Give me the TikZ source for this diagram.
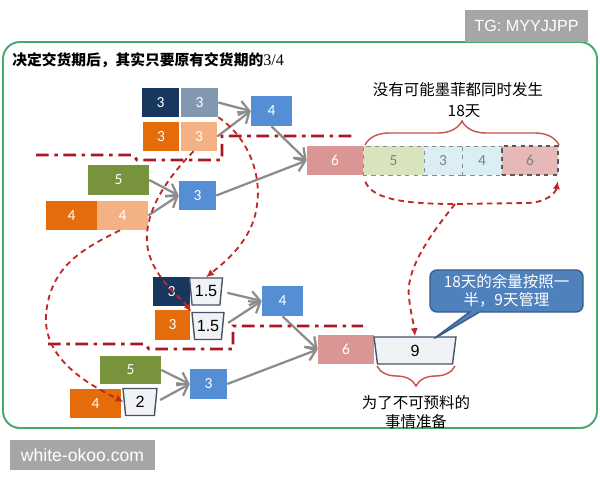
\documentclass[tikz,border=0pt]{standalone}
\usepackage{fontspec}
\setmainfont{Carlito}
\newfontfamily\cjk{Noto Sans CJK SC}
\newfontfamily\arial{Liberation Sans}
\newfontfamily\tms{Liberation Serif}
\usetikzlibrary{arrows.meta,shapes.geometric,shapes.callouts,decorations.pathreplacing}
\definecolor{navy}{RGB}{23,55,94}
\definecolor{slate}{RGB}{132,151,176}
\definecolor{orng}{RGB}{228,108,10}
\definecolor{lorng}{RGB}{244,177,131}
\definecolor{blu}{RGB}{85,142,213}
\definecolor{grn}{RGB}{119,147,60}
\definecolor{pnk}{RGB}{217,150,148}
\definecolor{lgrn}{RGB}{215,228,189}
\definecolor{lblu}{RGB}{219,238,244}
\definecolor{lpnk}{RGB}{230,185,184}
\definecolor{trpfill}{RGB}{240,242,246}
\definecolor{trpline}{RGB}{68,84,106}
\definecolor{arrgray}{RGB}{140,140,140}
\definecolor{redd}{RGB}{192,40,40}
\definecolor{ddred}{RGB}{168,24,30}
\definecolor{brcred}{RGB}{200,80,77}
\definecolor{frmgrn}{RGB}{70,170,110}
\definecolor{wmgray}{RGB}{166,166,166}
\definecolor{cfill}{RGB}{79,129,189}
\definecolor{cline}{RGB}{56,93,138}
\tikzset{
  bx/.style={minimum height=29*.25mm,inner sep=0pt,font=\fontsize{11}{13}\selectfont,text=white},
  bw/.style={minimum width=#1*.25mm},
  sg/.style={bx,text=black!50,draw=black!45,dashed,line width=.4pt},
  trp/.style={trapezium,shape border rotate=180,trapezium stretches body=true,
              draw=trpline,fill=trpfill,line width=1pt,inner sep=0pt,
              minimum height=27*.25mm,font=\arial\fontsize{11.5}{13}\selectfont},
  ar/.style ={-{Straight Barb[length=2.4mm,width=3.6mm]},draw=arrgray,line width=1.6pt},
  rd/.style ={-{Latex[length=2mm,width=1.8mm]},draw=redd,line width=1.3pt,dash pattern=on 4pt off 3pt},
  dd/.style ={draw=ddred,line width=2pt,dash pattern=on 9pt off 4pt on 2.5pt off 4pt},
  brc/.style={decorate,decoration={brace,amplitude=#1},draw=brcred,line width=1pt},
  lbl/.style={font=\cjk\fontsize{11}{13}\selectfont,align=center,inner sep=0pt},
  hdr/.style={font=\cjk\bfseries\fontsize{10.5}{12}\selectfont,anchor=west,inner sep=0pt},
  wm/.style ={fill=wmgray,text=white,inner sep=0pt},
  note/.style={rectangle callout,callout absolute pointer={#1},fill=cfill,draw=cline,
               line width=1pt,rounded corners=5pt,text=white,align=center,
               minimum width=153*.25mm,minimum height=42*.25mm,inner sep=0pt,
               font=\cjk\fontsize{11}{13}\selectfont},
}
\begin{document}
\begin{tikzpicture}[x=.025cm,y=-.025cm]
  \useasboundingbox (0,0) rectangle (600,480);
  % frame and watermarks
  \draw[frmgrn,line width=1.4pt,rounded corners=12pt] (3,42) rectangle (597,428);
  \node[wm,minimum width=123*.25mm,minimum height=32*.25mm,font=\arial\fontsize{11.5}{13}\selectfont] (tg) at (526.5,26){TG: MYYJJPP};
  \node[wm,minimum width=145*.25mm,minimum height=30*.25mm,font=\arial\fontsize{12.5}{14}\selectfont] (site) at (82.5,455){white-okoo.com};
  \node[hdr] (ttl) at (12,60){决定交货期后，其实只要原有交货期的{\tms\mdseries\fontsize{11.5}{13}\selectfont 3/4}};

  % upper network
  \node[bx,bw=37,fill=navy]  (a1) at (160.5,102.5){3};
  \node[bx,bw=37,fill=slate] (a2) at (199.5,102.5){3};
  \node[bx,bw=36,fill=orng]  (b1) at (161,136.5){3};
  \node[bx,bw=36,fill=lorng] (b2) at (199,136.5){3};
  \node[bx,bw=41,minimum height=30*.25mm,fill=blu] (c4) at (271.5,111){4};
  \node[bx,bw=61,fill=grn]   (g5) at (118.5,180){5};
  \node[bx,bw=51,fill=orng]  (d1) at (71.5,215.5){4};
  \node[bx,bw=51,fill=lorng] (d2) at (122.5,215.5){4};
  \node[bx,bw=37,fill=blu]   (c3) at (197.5,195.5){3};
  \node[bx,bw=56,fill=pnk]   (p6) at (335,160.5){6};
  \node[sg,bw=61,fill=lgrn]  (s5) at (393.5,160.5){5};
  \node[sg,bw=38,fill=lblu]  (s3) at (443,160.5){3};
  \node[sg,bw=40,fill=lblu]  (s4) at (482,160.5){4};
  \node[sg,bw=56,fill=lpnk,draw=black!65,line width=.8pt] (s6) at (530,160.5){6};
  \draw[brc=.6cm] (365,145) -- (559,145);
  \node[lbl] (murphy) at (458,90){没有可能墨菲都同时发生};
  \node[lbl] (d18) at (464,111){18天};

  % lower network
  \node[bx,bw=37,fill=navy] (e1) at (171.5,291.5){3};
  \node[trp,bw=33,trapezium angle=77] (t1) at (206,291.5){1.5};
  \node[bx,bw=35,minimum height=30*.25mm,fill=orng] (f1) at (172.5,325){3};
  \node[trp,bw=32,trapezium angle=77] (t2) at (208,326){1.5};
  \node[bx,bw=41,minimum height=30*.25mm,fill=blu] (e4) at (282.5,301){4};
  \node[bx,bw=61,minimum height=28*.25mm,fill=grn] (h5) at (130.5,370){5};
  \node[bx,bw=51,fill=orng] (k4) at (95.5,403.5){4};
  \node[trp,bw=34,trapezium angle=77] (t3) at (140,402){2};
  \node[bx,bw=37,minimum height=30*.25mm,fill=blu] (e3) at (208.5,384){3};
  \node[bx,bw=56,fill=pnk] (q6) at (346,349.5){6};
  \node[trp,bw=82,trapezium angle=73] (t9) at (415,350.5){9};
  \draw[brc=.5cm] (455,366) -- (377,366);
  \node[lbl] (spare) at (416,412){为了不可预料的\\事情准备};
  \coordinate (tip) at (432,340);
  \node[note=(tip)] (half) at (506.5,291){18天的余量按照一\\半，9天管理};

  % flow arrows
  \draw[ar] (a2.east) -- (c4.west);
  \draw[ar] (b2.east) -- (c4.west);
  \draw[ar] (c4.south) -- (p6.west);
  \draw[ar] (g5.east) -- (c3.west);
  \draw[ar] (d2.east) -- (c3.west);
  \draw[ar] (c3.east) -- (p6.west);
  \draw[ar,shorten <=4pt] (t1.east) -- (e4.west);
  \draw[ar,shorten <=4pt] (t2.east) -- (e4.west);
  \draw[ar] (e4.south) -- (q6.west);
  \draw[ar] (h5.east) -- (e3.west);
  \draw[ar,shorten <=3pt] (t3.east) -- (e3.west);
  \draw[ar] (e3.east) -- (q6.west);

  % dash-dot cuts
  \draw[dd] (36,155) -- (133,155) -- (137,160) -- (222,160) -- (222,136) -- (352,136);
  \draw[dd] (48,344) -- (145,344) -- (149,349) -- (233,349) -- (233,326) -- (363,326);

  % red dashed moves
  \coordinate (dmid) at (455,204);
  \draw[rd] (a2.south east) .. controls (245,135) and (262,170) .. (257,205)
            .. controls (253,240) and (225,262) .. (t1.north);
  \draw[rd] (b2.250) .. controls (160,185) and (142,220) .. (148,250)
            .. controls (155,280) and (183,300) .. (t2.140);
  \draw[rd] (d2.260) .. controls (85,248) and (50,265) .. (46,315)
            .. controls (43,360) and (90,385) .. (t3.west);
  \draw[rd,shorten <=5pt,shorten >=4pt] (s5.south west) .. controls (372,198) and (400,204) .. (dmid)
            -- (528,203) .. controls (548,202) and (556,192) .. (s6.south east);
  \draw[rd] (dmid) .. controls (430,235) and (405,270) .. (409,298)
            .. controls (411,315) and (414,325) .. (t9.north);
\end{tikzpicture}
\end{document}
